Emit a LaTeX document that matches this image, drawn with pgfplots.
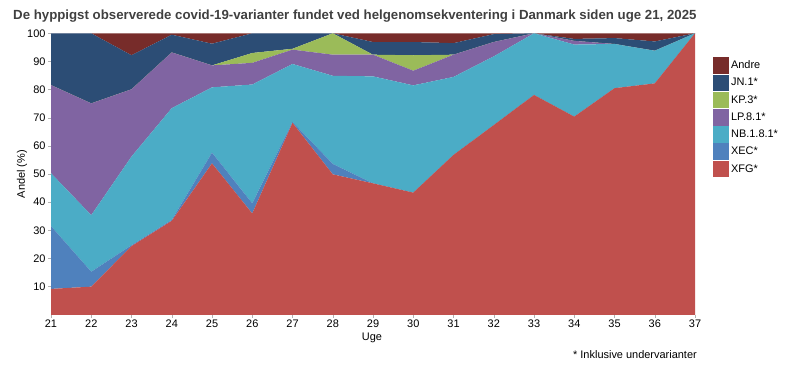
\documentclass[border=0pt]{standalone}
\usepackage{fontspec}
\setmainfont{Liberation Sans}
\usepackage{pgfplots}
\usepackage{pgfplotstable}
\pgfplotsset{compat=1.18}
\definecolor{andre}{HTML}{772C2A}
\definecolor{jn}{HTML}{2C4D75}
\definecolor{kp}{HTML}{9BBB59}
\definecolor{lp}{HTML}{8064A2}
\definecolor{nb}{HTML}{4BACC6}
\definecolor{xec}{HTML}{4F81BD}
\definecolor{xfg}{HTML}{C0504D}
\definecolor{titlegray}{HTML}{404040}
\pgfplotstableread{
uge XFG XEC NB LP KP JN Andre
21 9.2 22.3 18.8 31.3 0 18.4 0
22 10.0 5.3 20.1 39.7 0 24.9 0
23 24.4 0.3 31.5 23.9 0 12.1 7.8
24 33.4 0.3 39.7 19.8 0 6.3 0.5
25 53.8 3.8 23.2 7.8 0 7.7 3.7
26 36.0 3.6 42.2 7.7 3.5 7.0 0
27 68.2 0.3 20.6 5.1 0.3 5.5 0
28 49.9 3.7 31.3 7.5 7.6 0 0
29 46.7 0 38.0 7.7 0 4.5 3.1
30 43.4 0 38.1 5.2 5.5 4.7 3.1
31 56.8 0 27.7 7.9 0 4.1 3.5
32 67.4 0 24.4 5.1 0 2.8 0.3
33 78.1 0 21.9 0 0 0 0
34 70.4 0 25.6 1.3 0 0.7 2.0
35 80.5 0 15.7 0 0 2.1 1.7
36 82.2 0 11.6 0 0 3.3 2.9
37 100 0 0 0 0 0 0
}\datatable
\begin{document}
\begin{tikzpicture}[x=1bp,y=1bp]
\path[use as bounding box] (0,0) rectangle (800,375);
\node[anchor=west, font=\bfseries\fontsize{13.3}{15}\selectfont, text=titlegray, inner sep=0pt] at (13,359) {De hyppigst observerede covid-19-varianter fundet ved helgenomsekventering i Danmark siden uge 21, 2025};
\begin{axis}[
  at={(51bp,60.2bp)}, anchor=south west,
  scale only axis, width=644bp, height=281.5bp,
  xmin=21, xmax=37, ymin=0, ymax=100,
  xtick={21,...,37}, ytick={10,20,...,100},
  axis line style={draw=none},
  tick style={gray!60, thin},
  major tick length=3bp,
  tick align=outside, xtick pos=bottom, ytick pos=left,
  /pgf/number format/assume math mode=true,
  ticklabel style={font=\fontsize{11}{12}\selectfont, text=black},
  yticklabel style={xshift=1bp},
  xticklabel style={yshift=1.5bp},
  stack plots=y,
  reverse legend,
  legend style={at={(1.027,0.915)}, anchor=north west, draw=none, fill=none,
    font=\fontsize{11}{12}\selectfont, row sep=0.6bp, inner sep=0pt,
    /tikz/every even column/.append style={column sep=3bp}},
  legend cell align=left,
  legend image code/.code={\fill[#1, draw=none] (0bp,-8.3bp) rectangle (16.5bp,8.3bp);},
  clip=false,
]
\addplot[fill=xfg, draw=none] table[x=uge,y=XFG] {\datatable} \closedcycle;
\addlegendentry{XFG*}
\addplot[fill=xec, draw=none] table[x=uge,y=XEC] {\datatable} \closedcycle;
\addlegendentry{XEC*}
\addplot[fill=nb, draw=none] table[x=uge,y=NB] {\datatable} \closedcycle;
\addlegendentry{NB.1.8.1*}
\addplot[fill=lp, draw=none] table[x=uge,y=LP] {\datatable} \closedcycle;
\addlegendentry{LP.8.1*}
\addplot[fill=kp, draw=none] table[x=uge,y=KP] {\datatable} \closedcycle;
\addlegendentry{KP.3*}
\addplot[fill=jn, draw=none] table[x=uge,y=JN] {\datatable} \closedcycle;
\addlegendentry{JN.1*}
\addplot[fill=andre, draw=none] table[x=uge,y=Andre] {\datatable} \closedcycle;
\addlegendentry{Andre}
\end{axis}
\node[rotate=90, font=\fontsize{11}{12}\selectfont, inner sep=0pt] at (22,201) {Andel (\%)};
\node[font=\fontsize{11}{12}\selectfont, inner sep=0pt] at (372,37) {Uge};
\node[anchor=east, font=\fontsize{11}{12}\selectfont, inner sep=0pt] at (697,20) {* Inklusive undervarianter};
\end{tikzpicture}
\end{document}
